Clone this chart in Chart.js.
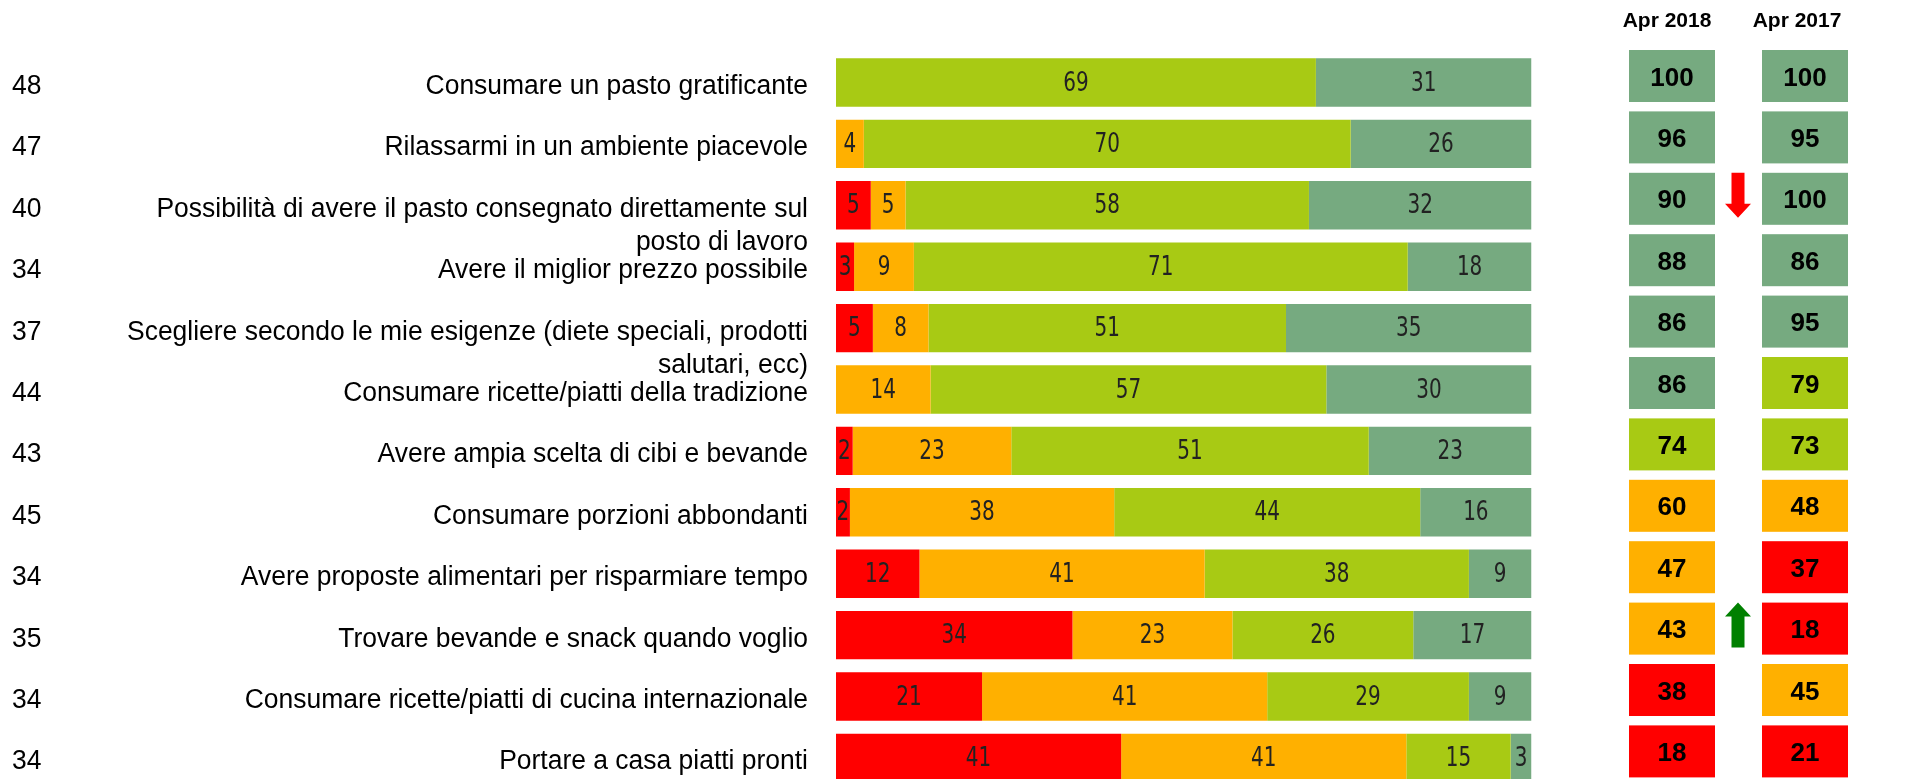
<!DOCTYPE html>
<html>
<head>
<meta charset="utf-8">
<script src="https://cdn.jsdelivr.net/npm/chart.js"></script>
<style>
  html, body { margin: 0; padding: 0; background: #fff; overflow: hidden; }
  #wrap { width: 1928px; height: 779px; overflow: hidden; }
  canvas { display: block; }
</style>
</head>
<body>
<div id="wrap"><canvas id="chart" width="1928" height="790"></canvas></div>
<script>
// rows, top to bottom
var categories = [
  'Consumare un pasto gratificante',
  'Rilassarmi in un ambiente piacevole',
  ['Possibilità di avere il pasto consegnato direttamente sul', 'posto di lavoro'],
  'Avere il miglior prezzo possibile',
  ['Scegliere secondo le mie esigenze (diete speciali, prodotti', 'salutari, ecc)'],
  'Consumare ricette/piatti della tradizione',
  'Avere ampia scelta di cibi e bevande',
  'Consumare porzioni abbondanti',
  'Avere proposte alimentari per risparmiare tempo',
  'Trovare bevande e snack quando voglio',
  'Consumare ricette/piatti di cucina internazionale',
  'Portare a casa piatti pronti'
];
var counts = [48, 47, 40, 34, 37, 44, 43, 45, 34, 35, 34, 34];

// stacked shares (%)
var redVals    = [0, 0, 5, 2.6, 5.3, 0, 2.4, 2, 12, 34, 21, 41];
var orangeVals = [0, 4, 5, 8.6, 8.0, 13.6, 22.8, 38, 41, 23, 41, 41];
var greenVals  = [69, 70, 58, 71.0, 51.4, 56.9, 51.4, 44, 38, 26, 29, 15];
var tealVals   = [31, 26, 32, 17.8, 35.3, 29.5, 23.4, 16, 9, 17, 9, 3];

// index columns
var periods = ['Apr 2018', 'Apr 2017'];
var index2018 = [100, 96, 90, 88, 86, 86, 74, 60, 47, 43, 38, 18];
var index2017 = [100, 95, 100, 86, 95, 79, 73, 48, 37, 18, 45, 21];
// -1 = significant drop, 1 = significant rise
var trend = [0, 0, -1, 0, 0, 0, 0, 0, 0, 1, 0, 0];

var RED = '#ff0000', ORANGE = '#ffb000', GREEN = '#a8ca14', TEAL = '#76aa80';

function indexColor(v) {
  if (v >= 80) return TEAL;
  if (v >= 70) return GREEN;
  if (v >= 40) return ORANGE;
  return RED;
}

function squeezed(ctx, text, x, y, sx, align) {
  ctx.save();
  ctx.translate(x, y);
  ctx.scale(sx, 1);
  ctx.textAlign = align;
  ctx.fillText(text, 0, 0);
  ctx.restore();
}

var sideText = {
  id: 'sideText',
  afterDatasetsDraw: function(chart) {
    var ctx = chart.ctx, y = chart.scales.y;
    ctx.save();
    ctx.textBaseline = 'alphabetic';

    // numbers inside the segments
    ctx.fillStyle = '#222';
    ctx.font = '27px "DejaVu Sans"';
    chart.data.datasets.forEach(function(ds, d) {
      chart.getDatasetMeta(d).data.forEach(function(bar, i) {
        var v = ds.data[i];
        if (!v) return;
        squeezed(ctx, String(Math.round(v)), (bar.x + bar.base) / 2, bar.y + 8, 0.74, 'center');
      });
    });

    // left labels and base counts
    ctx.fillStyle = '#000';
    ctx.font = '27px "Liberation Sans", Arial, sans-serif';
    chart.data.labels.forEach(function(lab, i) {
      var lines = Array.isArray(lab) ? lab : [lab];
      var base = y.getPixelForValue(i) + 11.5;
      lines.forEach(function(ln, k) {
        squeezed(ctx, ln, 808, base + k * 33, 0.98, 'right');
      });
      squeezed(ctx, String(counts[i]), 12, base, 0.98, 'left');
    });

    // index boxes
    var cols = [index2018, index2017];
    var colX = [1629, 1762];
    cols.forEach(function(vals, c) {
      vals.forEach(function(v, i) {
        var yc = y.getPixelForValue(i) - 6.5;
        ctx.fillStyle = indexColor(v);
        ctx.fillRect(colX[c], yc - 26, 86, 52);
        ctx.fillStyle = '#000';
        ctx.font = 'bold 26px "Liberation Sans", Arial, sans-serif';
        ctx.textAlign = 'center';
        ctx.fillText(String(v), colX[c] + 43, yc + 9.5);
      });
    });

    // headers
    ctx.font = 'bold 21px "Liberation Sans", Arial, sans-serif';
    ctx.textAlign = 'center';
    ctx.fillText(periods[0], 1667, 27);
    ctx.fillText(periods[1], 1797, 27);

    // trend arrows
    trend.forEach(function(t, i) {
      if (!t) return;
      var top = y.getPixelForValue(i) - 6.5 - 26;
      var cx = 1738, bot = top + 45;
      ctx.beginPath();
      if (t < 0) {
        ctx.moveTo(cx - 6.5, top);
        ctx.lineTo(cx + 6.5, top);
        ctx.lineTo(cx + 6.5, bot - 14);
        ctx.lineTo(cx + 13, bot - 14);
        ctx.lineTo(cx, bot);
        ctx.lineTo(cx - 13, bot - 14);
        ctx.lineTo(cx - 6.5, bot - 14);
        ctx.fillStyle = RED;
      } else {
        ctx.moveTo(cx, top);
        ctx.lineTo(cx + 13, top + 14);
        ctx.lineTo(cx + 6.5, top + 14);
        ctx.lineTo(cx + 6.5, bot);
        ctx.lineTo(cx - 6.5, bot);
        ctx.lineTo(cx - 6.5, top + 14);
        ctx.lineTo(cx - 13, top + 14);
        ctx.fillStyle = '#008000';
      }
      ctx.closePath();
      ctx.fill();
    });
    ctx.restore();
  }
};

var ctx = document.getElementById('chart').getContext('2d');
var chart = new Chart(ctx, {
  type: 'bar',
  data: {
    labels: categories,
    datasets: [
      { label: 'red', data: redVals, backgroundColor: RED },
      { label: 'orange', data: orangeVals, backgroundColor: ORANGE },
      { label: 'green', data: greenVals, backgroundColor: GREEN },
      { label: 'teal', data: tealVals, backgroundColor: TEAL }
    ]
  },
  options: {
    indexAxis: 'y',
    responsive: false,
    animation: false,
    devicePixelRatio: 1,
    layout: { padding: { left: 836, right: 396.5, top: 51.8, bottom: 1.4 } },
    datasets: { bar: { categoryPercentage: 1, barPercentage: 0.788, borderWidth: 0 } },
    scales: {
      x: { stacked: true, min: 0, max: 100, display: false },
      y: { stacked: true, display: false }
    },
    plugins: { legend: { display: false }, tooltip: { enabled: false } }
  },
  plugins: [sideText]
});
</script>
</body>
</html>
